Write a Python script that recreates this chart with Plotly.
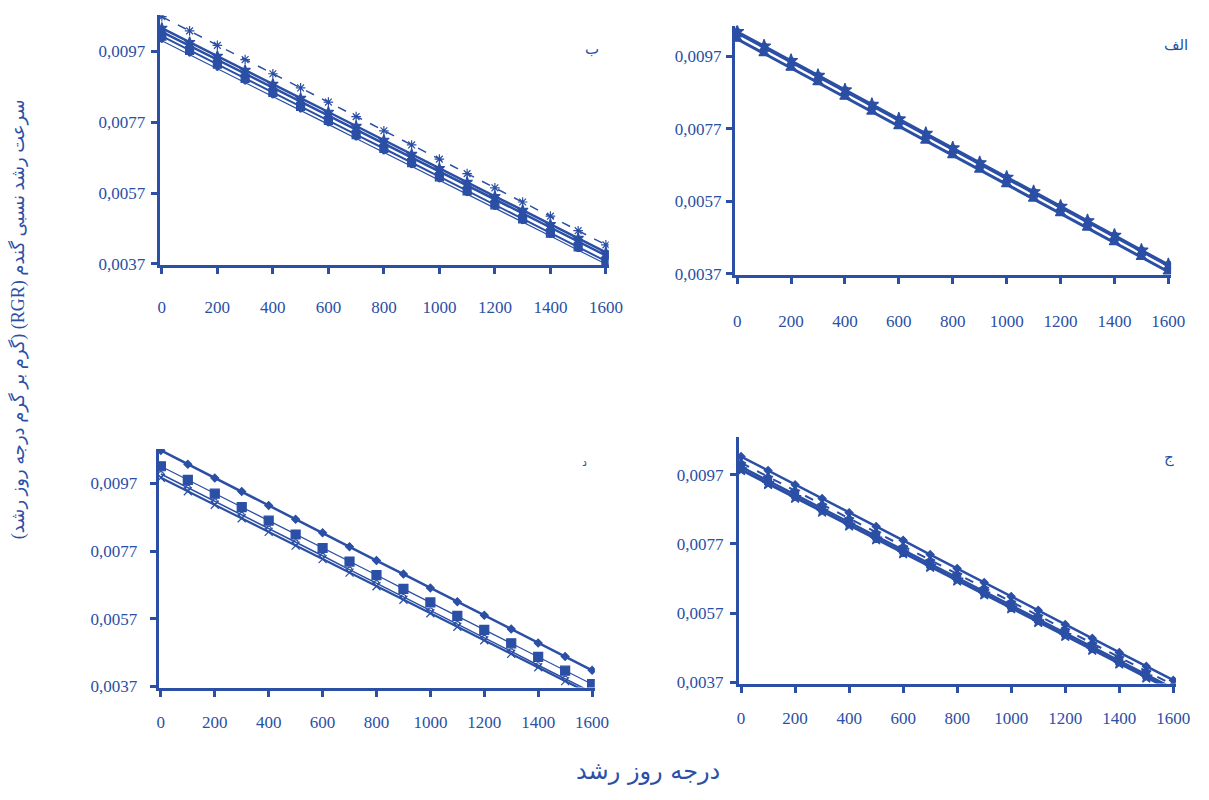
import plotly.graph_objects as go

# ---------------- data ----------------
gdd = [0, 100, 200, 300, 400, 500, 600, 700, 800, 900, 1000, 1100, 1200, 1300, 1400, 1500, 1600]
x_ticks = [0, 200, 400, 600, 800, 1000, 1200, 1400, 1600]
y_ticks = [0.0037, 0.0057, 0.0077, 0.0097]

panel_labels = ["ب", "الف", "د", "ج"]

# panel ب (top-left)
b_dash_star = [0.01068, 0.01028, 0.00987, 0.00947, 0.00907, 0.00867, 0.00827, 0.00786, 0.00746, 0.00706, 0.00666, 0.00625, 0.00585, 0.00545, 0.00505, 0.00464, 0.00424]
b_star = [0.01036, 0.00996, 0.00957, 0.00917, 0.00878, 0.00838, 0.00799, 0.00759, 0.00720, 0.00680, 0.00640, 0.00601, 0.00561, 0.00522, 0.00482, 0.00443, 0.00403]
b_cross = [0.01025, 0.00986, 0.00946, 0.00907, 0.00867, 0.00828, 0.00789, 0.00749, 0.00710, 0.00670, 0.00631, 0.00591, 0.00552, 0.00513, 0.00473, 0.00434, 0.00394]
b_square = [0.01013, 0.00973, 0.00934, 0.00894, 0.00854, 0.00815, 0.00775, 0.00735, 0.00696, 0.00656, 0.00616, 0.00576, 0.00537, 0.00497, 0.00457, 0.00418, 0.00378]
b_thin = [0.01000, 0.00961, 0.00921, 0.00882, 0.00843, 0.00803, 0.00764, 0.00724, 0.00685, 0.00646, 0.00606, 0.00567, 0.00528, 0.00488, 0.00449, 0.00409, 0.00370]

# panel الف (top-right)
a_star = [0.01038, 0.00998, 0.00958, 0.00917, 0.00877, 0.00837, 0.00797, 0.00757, 0.00717, 0.00676, 0.00636, 0.00596, 0.00556, 0.00516, 0.00476, 0.00435, 0.00395]
a_cross = [0.01034, 0.00994, 0.00954, 0.00914, 0.00874, 0.00833, 0.00793, 0.00753, 0.00713, 0.00673, 0.00633, 0.00593, 0.00553, 0.00513, 0.00473, 0.00432, 0.00392]
a_triangle = [0.01018, 0.00978, 0.00938, 0.00898, 0.00858, 0.00817, 0.00777, 0.00737, 0.00697, 0.00657, 0.00617, 0.00577, 0.00537, 0.00497, 0.00457, 0.00416, 0.00376]

# panel د (bottom-left)
d_diamond = [0.01068, 0.01027, 0.00986, 0.00946, 0.00905, 0.00864, 0.00824, 0.00783, 0.00742, 0.00702, 0.00661, 0.00620, 0.00580, 0.00539, 0.00498, 0.00458, 0.00417]
d_square = [0.01021, 0.00981, 0.00940, 0.00900, 0.00860, 0.00819, 0.00779, 0.00739, 0.00699, 0.00658, 0.00618, 0.00578, 0.00537, 0.00497, 0.00457, 0.00416, 0.00376]
d_circle = [0.00998, 0.00958, 0.00917, 0.00877, 0.00836, 0.00796, 0.00756, 0.00715, 0.00675, 0.00634, 0.00594, 0.00554, 0.00513, 0.00473, 0.00432, 0.00392, 0.00352]
d_cross = [0.00987, 0.00947, 0.00907, 0.00867, 0.00827, 0.00786, 0.00746, 0.00706, 0.00666, 0.00626, 0.00586, 0.00546, 0.00506, 0.00466, 0.00426, 0.00385, 0.00345]

# panel ج (bottom-right)
j_top = [0.01022, 0.00982, 0.00941, 0.00901, 0.00860, 0.00820, 0.00780, 0.00739, 0.00699, 0.00658, 0.00618, 0.00578, 0.00537, 0.00497, 0.00456, 0.00416, 0.00376]
j_dash = [0.01004, 0.00964, 0.00924, 0.00884, 0.00844, 0.00803, 0.00763, 0.00723, 0.00683, 0.00643, 0.00603, 0.00563, 0.00523, 0.00483, 0.00443, 0.00402, 0.00362]
j_mid = [0.00992, 0.00952, 0.00912, 0.00872, 0.00832, 0.00792, 0.00752, 0.00712, 0.00672, 0.00632, 0.00592, 0.00552, 0.00512, 0.00472, 0.00432, 0.00392, 0.00352]
j_low = [0.00984, 0.00944, 0.00904, 0.00864, 0.00824, 0.00784, 0.00744, 0.00705, 0.00665, 0.00625, 0.00585, 0.00545, 0.00505, 0.00465, 0.00425, 0.00385, 0.00345]

x_title = "درجه روز رشد"
y_title = "سرعت رشد نسبی گندم (RGR) (گرم بر گرم درجه روز رشد)"

# ---------------- style ----------------
BLUE = "#2b4fa5"
W, H = 1209, 800
SERIF = "Liberation Serif, Times New Roman, serif"
ARAB = "DejaVu Sans, Noto Sans, sans-serif"

# pixel anchors for each panel: x px of 0 and 1600, y px of 0.0037 and 0.0097, y top value, label standoff
panels = [
    dict(x0=162, x1=612, y37=267, y97=52, ytop=0.01072, xstand=18, ystand=2, lab=(598, 50), labsize=15),
    dict(x0=745, x1=1182, y37=277, y97=57, ytop=0.01055, xstand=22, ystand=1, lab=(1190, 46), labsize=15),
    dict(x0=161, x1=598, y37=694, y97=489, ytop=0.01072, xstand=11, ystand=9, lab=(590, 468), labsize=11),
    dict(x0=749, x1=1187, y37=690, y97=480, ytop=0.01078, xstand=11, ystand=3, lab=(1183, 463), labsize=15),
]
XR = [-8, 1610]
YBOT = 0.00366

series = [
    # (panel index, values, dash, width, symbol, size)
    (0, b_thin, "solid", 1.2, "circle", 3),
    (0, b_square, "solid", 2.0, "square", 8),
    (0, b_cross, "solid", 2.5, "x", 7),
    (0, b_star, "solid", 2.5, "star", 8),
    (0, b_dash_star, "dash", 1.5, "asterisk-open", 8),
    (1, a_triangle, "solid", 3.0, "triangle-up", 9),
    (1, a_cross, "solid", 2.5, "x", 7),
    (1, a_star, "solid", 3.0, "star", 10),
    (2, d_cross, "solid", 2.2, "x-thin-open", 8),
    (2, d_circle, "solid", 1.5, "circle-open", 5),
    (2, d_square, "solid", 1.2, "square", 9),
    (2, d_diamond, "solid", 2.5, "diamond", 6),
    (3, j_low, "solid", 3.0, "star", 9),
    (3, j_mid, "solid", 2.5, "square", 7),
    (3, j_dash, "dash", 2.0, "star-diamond", 7),
    (3, j_top, "solid", 2.5, "diamond", 6),
]

fig = go.Figure()
for pi, vals, dash, lw, sym, ms in series:
    sfx = "" if pi == 0 else str(pi + 1)
    fig.add_trace(go.Scatter(
        x=gdd, y=vals, mode="lines+markers",
        line=dict(color=BLUE, width=lw, dash=dash),
        marker=dict(symbol=sym, size=ms, color=BLUE, line=dict(color=BLUE, width=1.2)),
        xaxis="x" + sfx, yaxis="y" + sfx, showlegend=False, hoverinfo="skip",
    ))

layout = dict(
    width=W, height=H, margin=dict(l=0, r=0, t=0, b=0),
    paper_bgcolor="white", plot_bgcolor="white", showlegend=False,
    separators=",.",
)
annotations = []
for i, p in enumerate(panels):
    sfx = "" if i == 0 else str(i + 1)
    kx = (p["x1"] - p["x0"]) / 1600.0
    px_left = p["x0"] + XR[0] * kx
    px_right = p["x0"] + XR[1] * kx
    ky = (p["y37"] - p["y97"]) / 0.006
    py_bot = p["y37"] + (0.0037 - YBOT) * ky
    py_top = p["y37"] - (p["ytop"] - 0.0037) * ky
    layout["xaxis" + sfx] = dict(
        domain=[px_left / W, px_right / W], range=XR, anchor="y" + sfx,
        tickvals=x_ticks, ticks="outside", ticklen=6, tickwidth=2.5, tickcolor=BLUE,
        showline=True, linecolor=BLUE, linewidth=3, showgrid=False, zeroline=False,
        tickfont=dict(family=SERIF, size=17, color=BLUE), ticklabelstandoff=p["xstand"],
    )
    layout["yaxis" + sfx] = dict(
        domain=[1 - py_bot / H, 1 - py_top / H], range=[YBOT, p["ytop"]], anchor="x" + sfx,
        tickvals=y_ticks, tickformat=".4f", ticks="outside", ticklen=6, tickwidth=2.5, tickcolor=BLUE,
        showline=True, linecolor=BLUE, linewidth=3, showgrid=False, zeroline=False,
        tickfont=dict(family=SERIF, size=17, color=BLUE), ticklabelstandoff=p["ystand"],
    )
    annotations.append(dict(
        text=panel_labels[i], x=p["lab"][0] / W, y=1 - p["lab"][1] / H,
        xref="paper", yref="paper", showarrow=False, xanchor="center", yanchor="middle",
        font=dict(family=ARAB, size=p["labsize"], color=BLUE),
    ))

annotations.append(dict(
    text=x_title, x=655 / W, y=1 - 780 / H, xref="paper", yref="paper", showarrow=False,
    xanchor="center", yanchor="middle", font=dict(family=ARAB, size=24, color=BLUE),
))
annotations.append(dict(
    text="\u202b" + y_title + "\u202c", x=17 / W, y=1 - 323 / H, xref="paper", yref="paper",
    showarrow=False, textangle=-90, xanchor="center", yanchor="middle",
    font=dict(family="Liberation Serif, DejaVu Sans, serif", size=18, color=BLUE),
))
layout["annotations"] = annotations

fig.update_layout(**layout)
fig.write_html("out.html")
